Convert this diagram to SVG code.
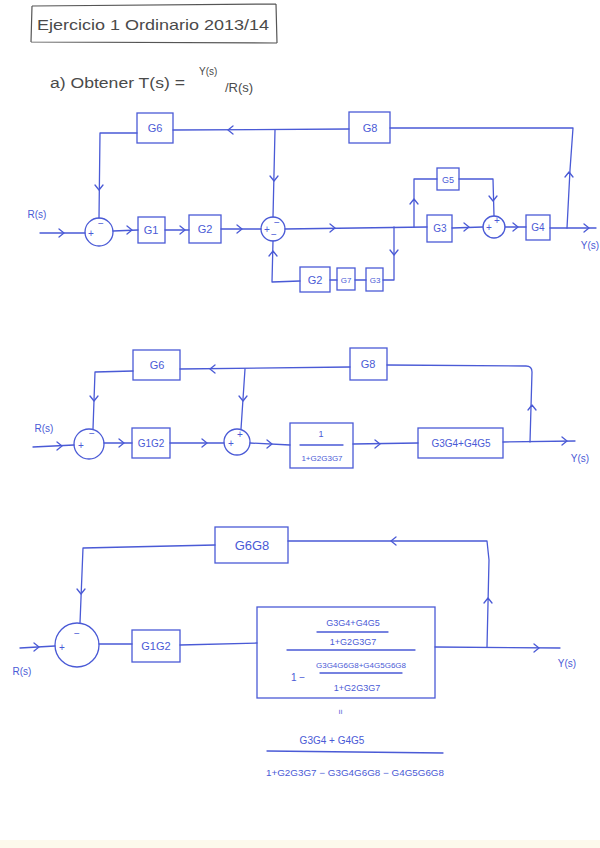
<svg xmlns="http://www.w3.org/2000/svg" xmlns:xlink="http://www.w3.org/1999/xlink" width="600" height="848" viewBox="0 0 600 848">
<style>
.ln{fill:none;stroke:#4a5ad6;stroke-width:1.3;stroke-linecap:round;stroke-linejoin:round}
.bx{fill:none;stroke:#4a5ad6;stroke-width:1.3}
.sj{fill:none;stroke:#4a5ad6;stroke-width:1.3}
.t{font-family:"Liberation Sans",Arial,sans-serif;fill:#4a5ad6;text-anchor:middle}
.s{font-family:"Liberation Sans",Arial,sans-serif;fill:#4a5ad6;text-anchor:middle;font-size:10px}
.h{font-family:"Liberation Sans",Arial,sans-serif;fill:#4a4a4a}
</style>
<defs>
<path id="c" d="M-5,-4 L0,0 L-5,4" fill="none" stroke="#4a5ad6" stroke-width="1.3" stroke-linecap="round" stroke-linejoin="round"/>
</defs>
<rect width="600" height="848" fill="#ffffff"/>
<rect x="0" y="840" width="600" height="8" fill="#fdf9ec"/>

<g id="title">
<path d="M32,6 L276,4 M31,42 L277,43 M32,6 L31,42 M276,4 L277,43" fill="none" stroke="#555" stroke-width="1.2"/>
<text class="h" x="37" y="30" font-size="15" textLength="232" lengthAdjust="spacingAndGlyphs">Ejercicio 1  Ordinario 2013/14</text>
</g>
<g id="question">
<text class="h" x="50" y="88" font-size="14" textLength="135" lengthAdjust="spacingAndGlyphs">a) Obtener  T(s) =</text>
<text class="h" x="199" y="75" font-size="10">Y(s)</text>
<text class="h" x="225" y="92" font-size="13">/R(s)</text>
</g>

<!-- Diagram 1 -->
<g id="connectors1">
<path class="ln" d="M40,233 L85,233"/>
<path class="ln" d="M113,231 L138,230"/>
<path class="ln" d="M165,230 L189,230"/>
<path class="ln" d="M221,229 L261,229"/>
<path class="ln" d="M285,229 L427,227"/>
<path class="ln" d="M452,228 L483,227"/>
<path class="ln" d="M505,227 L526,227"/>
<path class="ln" d="M550,228 L596,228"/>
<path class="ln" d="M567,228 L570,170 L573,128 L390,128"/>
<path class="ln" d="M349,129 L173,130"/>
<path class="ln" d="M137,133 L100,133 L99,218"/>
<path class="ln" d="M275,130 L273,217"/>
<path class="ln" d="M414,227 L414,179 L437,179"/>
<path class="ln" d="M459,179 L493,179 L494,216"/>
<path class="ln" d="M394,227 L394,280 L383,280"/>
<path class="ln" d="M366,280 L355,280"/>
<path class="ln" d="M337,280 L330,280"/>
<path class="ln" d="M300,281 L272,282 L273,241"/>
<use href="#c" transform="translate(64,233)"/>
<use href="#c" transform="translate(132,230)"/>
<use href="#c" transform="translate(185,230)"/>
<use href="#c" transform="translate(242,229)"/>
<use href="#c" transform="translate(335,228)"/>
<use href="#c" transform="translate(469,227)"/>
<use href="#c" transform="translate(518,227)"/>
<use href="#c" transform="translate(589,228)"/>
<use href="#c" transform="translate(569,172) rotate(-90)"/>
<use href="#c" transform="translate(228,130) rotate(180)"/>
<use href="#c" transform="translate(99,190) rotate(90)"/>
<use href="#c" transform="translate(274,181) rotate(90)"/>
<use href="#c" transform="translate(414,199) rotate(-90)"/>
<use href="#c" transform="translate(493,201) rotate(90)"/>
<use href="#c" transform="translate(394,255) rotate(90)"/>
<use href="#c" transform="translate(273,251) rotate(-90)"/>
</g>
<g id="d1-labels">
<text class="s" x="37" y="218" font-size="11">R(s)</text>
<text class="s" x="590" y="249">Y(s)</text>
</g>
<g id="d1-sum1"><circle class="sj" cx="99" cy="232" r="14"/><text class="s" x="91" y="237" font-size="8">+</text><text class="s" x="101" y="227" font-size="9">−</text></g>
<g id="d1-G1"><rect class="bx" x="138" y="217" width="27" height="26"/><text class="t" x="151" y="234" font-size="11">G1</text></g>
<g id="d1-G2"><rect class="bx" x="189" y="215" width="32" height="28"/><text class="t" x="205" y="233" font-size="11">G2</text></g>
<g id="d1-sum2"><circle class="sj" cx="273" cy="229" r="12"/><text class="s" x="267" y="233" font-size="8">+</text><text class="s" x="277" y="226" font-size="8">−</text><text class="s" x="274" y="238" font-size="8">−</text></g>
<g id="d1-G6"><rect class="bx" x="137" y="113" width="36" height="30"/><text class="t" x="155" y="132" font-size="11">G6</text></g>
<g id="d1-G8"><rect class="bx" x="349" y="112" width="41" height="31"/><text class="t" x="370" y="132" font-size="11">G8</text></g>
<g id="d1-G5"><rect class="bx" x="437" y="168" width="22" height="22"/><text class="t" x="448" y="183" font-size="9">G5</text></g>
<g id="d1-G3"><rect class="bx" x="427" y="215" width="25" height="27"/><text class="t" x="440" y="232" font-size="10">G3</text></g>
<g id="d1-sum3"><circle class="sj" cx="494" cy="227" r="11"/><text class="s" x="489" y="231" font-size="8">+</text><text class="s" x="497" y="224" font-size="7">+</text></g>
<g id="d1-G4"><rect class="bx" x="526" y="215" width="24" height="25"/><text class="t" x="538" y="231" font-size="10">G4</text></g>
<g id="d1-G3b"><rect class="bx" x="366" y="268" width="17" height="23"/><text class="t" x="375" y="283" font-size="8">G3</text></g>
<g id="d1-G7"><rect class="bx" x="337" y="268" width="18" height="22"/><text class="t" x="346" y="283" font-size="8">G7</text></g>
<g id="d1-G2b"><rect class="bx" x="300" y="267" width="30" height="25"/><text class="t" x="315" y="284" font-size="11">G2</text></g>

<!-- Diagram 2 -->
<g id="connectors2">
<path class="ln" d="M33,447 L74,445"/>
<path class="ln" d="M104,443 L132,443"/>
<path class="ln" d="M170,443 L224,443"/>
<path class="ln" d="M250,443 L290,445"/>
<path class="ln" d="M353,444 L418,443"/>
<path class="ln" d="M503,442 L575,441"/>
<path class="ln" d="M530,442 L532,372 Q532,366 526,366 L387,365"/>
<path class="ln" d="M350,367 L180,369"/>
<path class="ln" d="M133,371 L95,372 L93,429"/>
<path class="ln" d="M245,369 L241,429"/>
<use href="#c" transform="translate(62,446)"/>
<use href="#c" transform="translate(124,443)"/>
<use href="#c" transform="translate(207,443)"/>
<use href="#c" transform="translate(272,444)"/>
<use href="#c" transform="translate(380,444)"/>
<use href="#c" transform="translate(567,441)"/>
<use href="#c" transform="translate(532,405) rotate(-90)"/>
<use href="#c" transform="translate(210,369) rotate(180)"/>
<use href="#c" transform="translate(94,401) rotate(90)"/>
<use href="#c" transform="translate(243,401) rotate(90)"/>
</g>
<g id="d2-labels">
<text class="s" x="44" y="432">R(s)</text>
<text class="s" x="580" y="462">Y(s)</text>
</g>
<g id="d2-sum1"><circle class="sj" cx="89" cy="444" r="15"/><text class="s" x="81" y="449" font-size="8">+</text><text class="s" x="92" y="437" font-size="9">−</text></g>
<g id="d2-G1G2"><rect class="bx" x="132" y="428" width="38" height="30"/><text class="t" x="151" y="447" font-size="10">G1G2</text></g>
<g id="d2-sum2"><circle class="sj" cx="237" cy="442" r="13"/><text class="s" x="231" y="447" font-size="8">+</text><text class="s" x="240" y="438" font-size="8">+</text></g>
<g id="d2-inner"><rect class="bx" x="290" y="423" width="63" height="45"/><text class="t" x="321" y="437" font-size="9">1</text><path class="ln" d="M300,445 L343,445"/><text class="t" x="322" y="461" font-size="8">1+G2G3G7</text></g>
<g id="d2-G3G4G4G5"><rect class="bx" x="418" y="428" width="85" height="30"/><text class="t" x="461" y="447" font-size="10">G3G4+G4G5</text></g>
<g id="d2-G6"><rect class="bx" x="133" y="350" width="47" height="30"/><text class="t" x="157" y="369" font-size="11">G6</text></g>
<g id="d2-G8"><rect class="bx" x="350" y="348" width="37" height="32"/><text class="t" x="368" y="368" font-size="11">G8</text></g>

<!-- Diagram 3 -->
<g id="connectors3">
<path class="ln" d="M20,648 L55,646"/>
<path class="ln" d="M99,644 L132,644"/>
<path class="ln" d="M180,645 L257,643"/>
<path class="ln" d="M435,647 L560,648"/>
<path class="ln" d="M487,647 L489,560 L487,541 L288,541"/>
<path class="ln" d="M215,545 L83,548 L80,623"/>
<use href="#c" transform="translate(39,647)"/>
<use href="#c" transform="translate(539,648)"/>
<use href="#c" transform="translate(488,598) rotate(-90)"/>
<use href="#c" transform="translate(391,541) rotate(180)"/>
<use href="#c" transform="translate(81,594) rotate(90)"/>
</g>
<g id="d3-labels">
<text class="s" x="22" y="675">R(s)</text>
<text class="s" x="567" y="667">Y(s)</text>
</g>
<g id="d3-sum1"><circle class="sj" cx="77" cy="645" r="22"/><text class="s" x="62" y="651" font-size="9">+</text><text class="s" x="77" y="637" font-size="10">−</text></g>
<g id="d3-G1G2"><rect class="bx" x="132" y="630" width="48" height="32"/><text class="t" x="156" y="650" font-size="11">G1G2</text></g>
<g id="d3-G6G8"><rect class="bx" x="215" y="527" width="73" height="36"/><text class="t" x="252" y="550" font-size="13">G6G8</text></g>
<g id="d3-big">
<rect class="bx" x="257" y="607" width="178" height="91"/>
<text class="t" x="353" y="626" font-size="9">G3G4+G4G5</text>
<path class="ln" d="M317,632 L388,632"/>
<text class="t" x="353" y="645" font-size="9">1+G2G3G7</text>
<path class="ln" d="M287,650 L415,650"/>
<text class="t" x="298" y="681" font-size="10">1 −</text>
<text class="t" x="361" y="668" font-size="8">G3G4G6G8+G4G5G6G8</text>
<path class="ln" d="M320,673 L402,673"/>
<text class="t" x="357" y="691" font-size="9">1+G2G3G7</text>
</g>
<g id="result">
<text class="t" x="338" y="712" font-size="9" transform="rotate(90 338 712)">=</text>
<text class="t" x="332" y="744" font-size="10">G3G4 + G4G5</text>
<path class="ln" d="M267,751 L443,753"/>
<text class="t" x="355" y="776" font-size="9" textLength="178" lengthAdjust="spacingAndGlyphs">1+G2G3G7 − G3G4G6G8 − G4G5G6G8</text>
</g>
</svg>
